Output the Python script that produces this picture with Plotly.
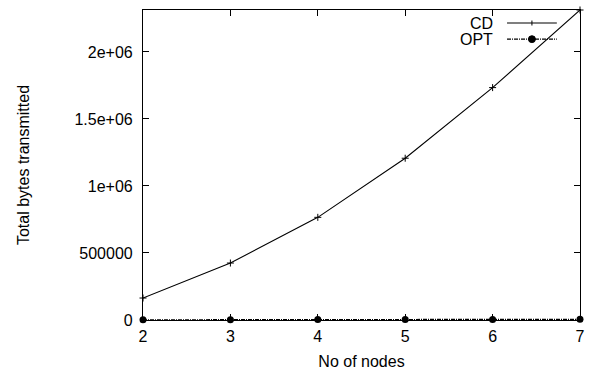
import plotly.graph_objects as go

nodes = [2, 3, 4, 5, 6, 7]
cd_bytes = [164000, 425000, 766000, 1207000, 1734000, 2313000]
opt_bytes = [1500, 2200, 3000, 3800, 4600, 5400]
y_ticks = [0, 500000, 1000000, 1500000, 2000000]
y_tick_labels = ["0", "500000", "1e+06", "1.5e+06", "2e+06"]

FONT = "Liberation Sans, Arial, Helvetica, sans-serif"
OPT_DASH = "4px,1px,1px,1px"

fig = go.Figure()
fig.add_trace(go.Scatter(
    x=nodes, y=cd_bytes, mode="lines+markers", name="CD",
    line=dict(color="black", width=1.1),
    marker=dict(symbol="cross-thin", size=5, color="black", line=dict(color="black", width=1)),
    showlegend=False, cliponaxis=False))
fig.add_trace(go.Scatter(
    x=nodes, y=opt_bytes, mode="lines+markers", name="OPT",
    line=dict(color="black", width=1.2, dash=OPT_DASH),
    marker=dict(symbol="circle", size=7, color="black"),
    showlegend=False, cliponaxis=False))

axis_common = dict(
    showline=True, linecolor="black", linewidth=1.2, mirror="ticks",
    ticks="inside", ticklen=6, tickwidth=1, tickcolor="black",
    showgrid=False, zeroline=False, automargin=False,
    tickfont=dict(family=FONT, size=16, color="black"),
)

fig.update_xaxes(range=[2, 7], tickvals=nodes, ticktext=[str(n) for n in nodes],
                 ticklabelstandoff=2,
                 title=dict(text="No of nodes", font=dict(family=FONT, size=16, color="black"), standoff=11),
                 **axis_common)
fig.update_yaxes(range=[0, 2313000], tickvals=y_ticks, ticktext=y_tick_labels,
                 ticklabelstandoff=6,
                 title=dict(text="Total bytes transmitted", font=dict(family=FONT, size=16, color="black"), standoff=40),
                 **axis_common)

# gnuplot-style legend (text right-aligned, sample to the right)
legend_rows = [("CD", 0.958), ("OPT", 0.906)]
for i, (label, yy) in enumerate(legend_rows):
    fig.add_annotation(x=0.805, y=yy, xref="paper", yref="paper", text=label,
                       showarrow=False, xanchor="right", yanchor="middle",
                       font=dict(family=FONT, size=16, color="black"))
    fig.add_shape(type="line", xref="paper", yref="paper",
                  x0=0.833, x1=0.947, y0=yy, y1=yy,
                  line=dict(color="black", width=1.1,
                            dash="solid" if i == 0 else OPT_DASH))
# legend sample markers
fig.add_shape(type="line", xref="paper", yref="paper", x0=0.89, x1=0.89,
              y0=0.958 - 0.008, y1=0.958 + 0.008, line=dict(color="black", width=1))
fig.add_shape(type="circle", xref="paper", yref="paper", x0=0.882, x1=0.898,
              y0=0.906 - 0.011, y1=0.906 + 0.011, fillcolor="black", line=dict(color="black", width=1))

fig.update_layout(
    width=590, height=372,
    margin=dict(l=143, r=10, t=10, b=52),
    paper_bgcolor="white", plot_bgcolor="white",
    font=dict(family=FONT, color="black"),
)

fig.write_html("out.html")
